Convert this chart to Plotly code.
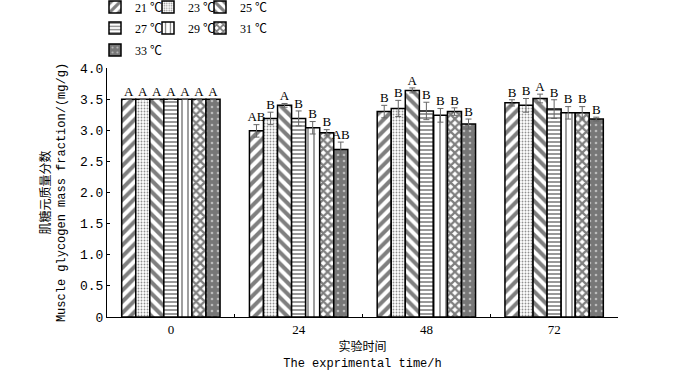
import plotly.graph_objects as go

times = ["0", "24", "48", "72"]
temps = ["21 ℃", "23 ℃", "25 ℃", "27 ℃", "29 ℃", "31 ℃", "33 ℃"]

vals = {
    "21 ℃": [3.50, 2.99, 3.30, 3.44],
    "23 ℃": [3.50, 3.19, 3.35, 3.40],
    "25 ℃": [3.50, 3.40, 3.64, 3.51],
    "27 ℃": [3.50, 3.19, 3.31, 3.34],
    "29 ℃": [3.50, 3.04, 3.24, 3.28],
    "31 ℃": [3.50, 2.96, 3.30, 3.28],
    "33 ℃": [3.50, 2.69, 3.10, 3.18],
}
errs = {
    "21 ℃": [0, 0.10, 0.10, 0.05],
    "23 ℃": [0, 0.10, 0.13, 0.11],
    "25 ℃": [0, 0.03, 0.04, 0.07],
    "27 ℃": [0, 0.12, 0.14, 0.15],
    "29 ℃": [0, 0.10, 0.11, 0.10],
    "31 ℃": [0, 0.05, 0.06, 0.10],
    "33 ℃": [0, 0.12, 0.08, 0.03],
}
letters = {
    "21 ℃": ["A", "AB", "B", "B"],
    "23 ℃": ["A", "B", "B", "B"],
    "25 ℃": ["A", "A", "A", "A"],
    "27 ℃": ["A", "B", "B", "B"],
    "29 ℃": ["A", "B", "B", "B"],
    "31 ℃": ["A", "B", "B", "B"],
    "33 ℃": ["A", "AB", "B", "B"],
}
ytick_vals = [0, 0.5, 1.0, 1.5, 2.0, 2.5, 3.0, 3.5, 4.0]
ytick_text = ["0", "0.5", "1.0", "1.5", "2.0", "2.5", "3.0", "3.5", "4.0"]

patterns = {
    "21 ℃": dict(shape="/", fgcolor="black", bgcolor="white", size=8, solidity=0.5),
    "23 ℃": dict(shape=".", fgcolor="#222", bgcolor="white", size=3, solidity=0.3),
    "25 ℃": dict(shape="\\", fgcolor="black", bgcolor="white", size=8, solidity=0.5),
    "27 ℃": dict(shape="-", fgcolor="black", bgcolor="white", size=4, solidity=0.4),
    "29 ℃": dict(shape="|", fgcolor="black", bgcolor="white", size=6, solidity=0.25),
    "31 ℃": dict(shape="x", fgcolor="black", bgcolor="white", size=6, solidity=0.6),
    "33 ℃": dict(shape=".", fgcolor="white", bgcolor="#777", size=6, solidity=0.15),
}
# one small legend per entry: (legend id, left x in px, row centre y in px)
legend_pos = {
    "21 ℃": ("legend", 95, 7), "23 ℃": ("legend2", 148, 7), "25 ℃": ("legend3", 200, 7),
    "27 ℃": ("legend4", 95, 28), "29 ℃": ("legend5", 148, 28), "31 ℃": ("legend6", 200, 28),
    "33 ℃": ("legend7", 95, 50),
}

W, H = 700, 371
serif = "Liberation Serif, Noto Sans CJK SC"
mono = "Liberation Mono, Noto Sans CJK SC"

fig = go.Figure()
for t in temps:
    fig.add_trace(go.Bar(
        x=times, y=vals[t], name=t,
        marker=dict(color="white", line=dict(color="black", width=1.5), pattern=patterns[t]),
        error_y=dict(type="data", array=errs[t], color="#666", thickness=1, width=3),
        legend=legend_pos[t][0],
    ))
for t in temps:
    tops = [v + e for v, e in zip(vals[t], errs[t])]
    fig.add_trace(go.Scatter(
        x=times, y=tops, mode="text", text=letters[t], textposition="top center",
        textfont=dict(family=serif, size=13, color="black"), showlegend=False,
        cliponaxis=False,
    ))

legends = {}
for t in temps:
    lid, px, py = legend_pos[t]
    legends[lid] = dict(orientation="h", xref="container", yref="container",
                        x=px / W, y=1 - py / H, xanchor="left", yanchor="middle",
                        bgcolor="rgba(0,0,0,0)", borderwidth=0,
                        font=dict(family=serif, size=12, color="black"),
                        itemwidth=30)

fig.update_layout(
    width=W, height=H,
    margin=dict(l=107, r=82, t=68, b=54, autoexpand=False),
    paper_bgcolor="white", plot_bgcolor="white",
    barmode="group", bargap=0.23, bargroupgap=0,
    scattermode="group", scattergap=0.23,
    font=dict(family=serif, size=13, color="black"),
    xaxis=dict(showline=True, linecolor="black", linewidth=1, ticks="inside",
               tickson="boundaries", ticklen=3, tickcolor="black", showgrid=False,
               tickfont=dict(family=serif, size=13),
               title=dict(text="实验时间<br>The exprimental time/h",
                          font=dict(family=mono, size=12), standoff=19)),
    yaxis=dict(range=[0, 4], tickvals=ytick_vals, ticktext=ytick_text,
               showline=True, linecolor="black", linewidth=1, ticks="inside",
               ticklen=3, tickcolor="black", showgrid=False, zeroline=False,
               tickfont=dict(family=mono, size=13),
               title=dict(text="肌糖元质量分数<br>Muscle glycogen mass fraction/(mg/g)",
                          font=dict(family=mono, size=12), standoff=11)),
    **legends,
)
fig.write_html("out.html", config={"displayModeBar": False},
               post_script="document.body.style.margin='0';document.body.style.padding='0';")
